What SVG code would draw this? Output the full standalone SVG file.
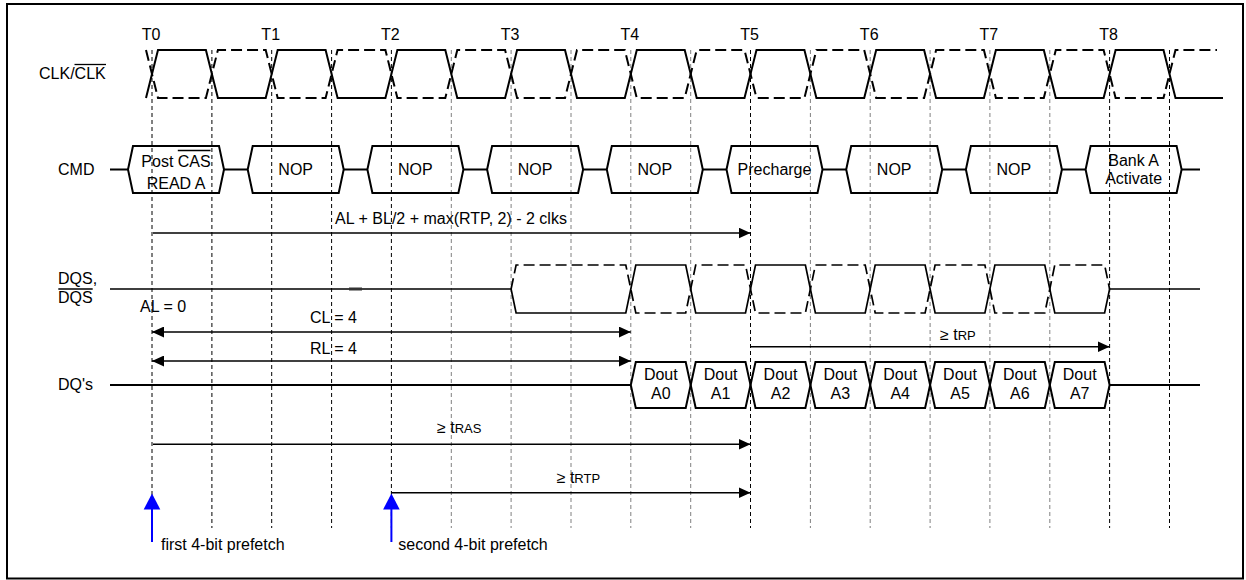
<svg xmlns="http://www.w3.org/2000/svg" width="1246" height="580" viewBox="0 0 1246 580">
<style>
text{font-family:"Liberation Sans",Arial,sans-serif;font-size:16px;fill:#000}
.m{text-anchor:middle}
.sub{font-size:13px}
.grid{stroke-width:1;stroke-dasharray:4,3;fill:none}
.gk{stroke:#000}
.gg{stroke:#808080}
.sig{fill:none;stroke:#000;stroke-width:2;stroke-linejoin:miter}
.dash{stroke-dasharray:11,5}
.hex{fill:none;stroke:#000;stroke-width:2}
.arr{stroke:#000;stroke-width:1.6;fill:none}
.blue{stroke:#0000ff;stroke-width:2;fill:none}
.ov{stroke:#000;stroke-width:1.3}
</style>
<defs>
<marker id="ah" markerUnits="userSpaceOnUse" markerWidth="12" markerHeight="11" refX="12" refY="5.5" orient="auto-start-reverse">
<path d="M0,0 L12,5.5 L0,11 z" fill="#000"/>
</marker>
</defs>
<rect x="7" y="4" width="1236" height="574.5" fill="#fff" stroke="#000" stroke-width="2"/>

<g id="grid">
<line class="grid gk" x1="152" y1="50" x2="152" y2="528"/>
<line class="grid gk" x1="211.9" y1="50" x2="211.9" y2="528"/>
<line class="grid gk" x1="271.7" y1="50" x2="271.7" y2="528"/>
<line class="grid gk" x1="331.6" y1="50" x2="331.6" y2="528"/>
<line class="grid gk" x1="391.4" y1="50" x2="391.4" y2="528"/>
<line class="grid gg" x1="451.3" y1="50" x2="451.3" y2="528"/>
<line class="grid gg" x1="511.1" y1="50" x2="511.1" y2="528"/>
<line class="grid gg" x1="571" y1="50" x2="571" y2="528"/>
<line class="grid gg" x1="630.8" y1="50" x2="630.8" y2="528"/>
<line class="grid gg" x1="690.7" y1="50" x2="690.7" y2="528"/>
<line class="grid gk" x1="750.5" y1="50" x2="750.5" y2="528"/>
<line class="grid gg" x1="810.4" y1="50" x2="810.4" y2="528"/>
<line class="grid gg" x1="870.2" y1="50" x2="870.2" y2="528"/>
<line class="grid gg" x1="930.1" y1="50" x2="930.1" y2="528"/>
<line class="grid gg" x1="989.9" y1="50" x2="989.9" y2="528"/>
<line class="grid gg" x1="1049.8" y1="50" x2="1049.8" y2="528"/>
<line class="grid gk" x1="1109.6" y1="50" x2="1109.6" y2="528"/>
<line class="grid gk" x1="1169.5" y1="50" x2="1169.5" y2="528"/>
</g>

<g id="tlabels">
<text class="m" x="151" y="39.5">T0</text>
<text class="m" x="270.7" y="39.5">T1</text>
<text class="m" x="390.4" y="39.5">T2</text>
<text class="m" x="510.1" y="39.5">T3</text>
<text class="m" x="629.8" y="39.5">T4</text>
<text class="m" x="749.5" y="39.5">T5</text>
<text class="m" x="869.2" y="39.5">T6</text>
<text class="m" x="988.9" y="39.5">T7</text>
<text class="m" x="1108.6" y="39.5">T8</text>
</g>

<g id="clk">
<text x="39" y="79">CLK/CLK</text>
<line class="ov" x1="74.5" y1="64.5" x2="106" y2="64.5"/>
<path class="sig" d="M146,98 L158,50 L205.9,50 L217.9,98 L265.7,98 L277.7,50 L325.6,50 L337.6,98 L385.4,98 L397.4,50 L445.3,50 L457.3,98 L505.1,98 L517.1,50 L565,50 L577,98 L624.8,98 L636.8,50 L684.7,50 L696.7,98 L744.5,98 L756.5,50 L804.4,50 L816.4,98 L864.2,98 L876.2,50 L924.1,50 L936.1,98 L983.9,98 L995.9,50 L1043.8,50 L1055.8,98 L1103.6,98 L1115.6,50 L1163.5,50 L1175.5,98 L1223,98"/>
<path class="sig dash" d="M146,50 L158,98 L205.9,98 L217.9,50 L265.7,50 L277.7,98 L325.6,98 L337.6,50 L385.4,50 L397.4,98 L445.3,98 L457.3,50 L505.1,50 L517.1,98 L565,98 L577,50 L624.8,50 L636.8,98 L684.7,98 L696.7,50 L744.5,50 L756.5,98 L804.4,98 L816.4,50 L864.2,50 L876.2,98 L924.1,98 L936.1,50 L983.9,50 L995.9,98 L1043.8,98 L1055.8,50 L1103.6,50 L1115.6,98 L1163.5,98 L1175.5,50 L1217,50"/>
</g>

<g id="cmd">
<text x="58" y="175">CMD</text>
<path class="sig" d="M110,169.5 H128 M224,169.5 H247.7 M343.7,169.5 H367.4 M463.4,169.5 H487.1 M583.1,169.5 H606.8 M702.8,169.5 H726.5 M822.5,169.5 H846.2 M942.2,169.5 H965.9 M1061.9,169.5 H1085.6 M1181.6,169.5 H1200"/>
</g>
<g id="cmd-read">
<polygon class="hex" points="128,169.5 133,146 219,146 224,169.5 219,193 133,193"/>
<text class="m" x="176" y="167">Post CAS</text>
<line class="ov" x1="177.8" y1="150.5" x2="210.5" y2="150.5"/>
<text class="m" x="176" y="189">READ A</text>
</g>
<g id="cmd-nop1">
<polygon class="hex" points="247.7,169.5 252.7,146 338.7,146 343.7,169.5 338.7,193 252.7,193"/>
<text class="m" x="295.7" y="175">NOP</text>
</g>
<g id="cmd-nop2">
<polygon class="hex" points="367.4,169.5 372.4,146 458.4,146 463.4,169.5 458.4,193 372.4,193"/>
<text class="m" x="415.4" y="175">NOP</text>
</g>
<g id="cmd-nop3">
<polygon class="hex" points="487.1,169.5 492.1,146 578.1,146 583.1,169.5 578.1,193 492.1,193"/>
<text class="m" x="535.1" y="175">NOP</text>
</g>
<g id="cmd-nop4">
<polygon class="hex" points="606.8,169.5 611.8,146 697.8,146 702.8,169.5 697.8,193 611.8,193"/>
<text class="m" x="654.8" y="175">NOP</text>
</g>
<g id="cmd-precharge">
<polygon class="hex" points="726.5,169.5 731.5,146 817.5,146 822.5,169.5 817.5,193 731.5,193"/>
<text class="m" x="774.5" y="175">Precharge</text>
</g>
<g id="cmd-nop5">
<polygon class="hex" points="846.2,169.5 851.2,146 937.2,146 942.2,169.5 937.2,193 851.2,193"/>
<text class="m" x="894.2" y="175">NOP</text>
</g>
<g id="cmd-nop6">
<polygon class="hex" points="965.9,169.5 970.9,146 1056.9,146 1061.9,169.5 1056.9,193 970.9,193"/>
<text class="m" x="1013.9" y="175">NOP</text>
</g>
<g id="cmd-activate">
<polygon class="hex" points="1085.6,169.5 1090.6,146 1176.6,146 1181.6,169.5 1176.6,193 1090.6,193"/>
<text class="m" x="1133.6" y="166">Bank A</text>
<text class="m" x="1133.6" y="184">Activate</text>
</g>

<g id="dqs">
<text x="58" y="284">DQS,</text>
<text x="58" y="303">DQS</text>
<line class="ov" x1="58.3" y1="289" x2="92.7" y2="289"/>
<path class="sig" style="stroke-width:1.7" d="M110,289 L511.1,289 L516.1,313 L625.8,313 L635.8,265 L685.7,265 L695.7,313 L745.5,313 L755.5,265 L805.4,265 L815.4,313 L865.2,313 L875.2,265 L925.1,265 L935.1,313 L984.9,313 L994.9,265 L1044.8,265 L1054.8,313 L1104.6,313 L1109.6,289 L1200,289"/>
<path class="sig dash" style="stroke-width:1.7" d="M511.1,289 L516.1,265 L625.8,265 L635.8,313 L685.7,313 L695.7,265 L745.5,265 L755.5,313 L805.4,313 L815.4,265 L865.2,265 L875.2,313 L925.1,313 L935.1,265 L984.9,265 L994.9,313 L1044.8,313 L1054.8,265 L1104.6,265 L1109.6,289"/>
<line x1="349" y1="289" x2="362" y2="289" stroke="#333" stroke-width="3"/>
</g>

<g id="dq">
<text x="58" y="390">DQ's</text>
<path class="sig" d="M110,385 H630.8 M1109.6,385 H1200"/>
</g>
<g id="dout-a0">
<polygon class="hex" points="630.8,385 635.8,362 685.7,362 690.7,385 685.7,408 635.8,408"/>
<text class="m" x="660.8" y="380">Dout</text><text class="m" x="660.8" y="399">A0</text>
</g>
<g id="dout-a1">
<polygon class="hex" points="690.7,385 695.7,362 745.5,362 750.5,385 745.5,408 695.7,408"/>
<text class="m" x="720.6" y="380">Dout</text><text class="m" x="720.6" y="399">A1</text>
</g>
<g id="dout-a2">
<polygon class="hex" points="750.5,385 755.5,362 805.4,362 810.4,385 805.4,408 755.5,408"/>
<text class="m" x="780.5" y="380">Dout</text><text class="m" x="780.5" y="399">A2</text>
</g>
<g id="dout-a3">
<polygon class="hex" points="810.4,385 815.4,362 865.2,362 870.2,385 865.2,408 815.4,408"/>
<text class="m" x="840.3" y="380">Dout</text><text class="m" x="840.3" y="399">A3</text>
</g>
<g id="dout-a4">
<polygon class="hex" points="870.2,385 875.2,362 925.1,362 930.1,385 925.1,408 875.2,408"/>
<text class="m" x="900.2" y="380">Dout</text><text class="m" x="900.2" y="399">A4</text>
</g>
<g id="dout-a5">
<polygon class="hex" points="930.1,385 935.1,362 984.9,362 989.9,385 984.9,408 935.1,408"/>
<text class="m" x="960" y="380">Dout</text><text class="m" x="960" y="399">A5</text>
</g>
<g id="dout-a6">
<polygon class="hex" points="989.9,385 994.9,362 1044.8,362 1049.8,385 1044.8,408 994.9,408"/>
<text class="m" x="1019.9" y="380">Dout</text><text class="m" x="1019.9" y="399">A6</text>
</g>
<g id="dout-a7">
<polygon class="hex" points="1049.8,385 1054.8,362 1104.6,362 1109.6,385 1104.6,408 1054.8,408"/>
<text class="m" x="1079.7" y="380">Dout</text><text class="m" x="1079.7" y="399">A7</text>
</g>

<g id="connectors">
<line class="arr" x1="153" y1="233" x2="750.5" y2="233" marker-end="url(#ah)"/>
<text class="m" x="451" y="224">AL + BL/2 + max(RTP, 2) - 2 clks</text>
<text x="140" y="312">AL = 0</text>
<line class="arr" x1="152" y1="332" x2="630.8" y2="332" marker-start="url(#ah)" marker-end="url(#ah)"/>
<text class="m" x="333.5" y="323">CL = 4</text>
<line class="arr" x1="152" y1="361" x2="630.8" y2="361" marker-start="url(#ah)" marker-end="url(#ah)"/>
<text class="m" x="333.5" y="354">RL = 4</text>
<line class="arr" x1="751" y1="346.7" x2="1109.6" y2="346.7" marker-end="url(#ah)"/>
<text x="940" y="340">≥ t<tspan class="sub">RP</tspan></text>
<line class="arr" x1="153" y1="444.3" x2="750.5" y2="444.3" marker-end="url(#ah)"/>
<text x="437" y="433">≥ t<tspan class="sub">RAS</tspan></text>
<line class="arr" x1="391.4" y1="492.7" x2="750.5" y2="492.7" marker-end="url(#ah)"/>
<text x="556.7" y="483.3">≥ t<tspan class="sub">RTP</tspan></text>
<line class="blue" x1="152" y1="542" x2="152" y2="506"/>
<polygon points="152,493.5 143.7,509.5 160.3,509.5" fill="#0000ff"/>
<line class="blue" x1="391.4" y1="542" x2="391.4" y2="506"/>
<polygon points="391.4,493.5 383.1,509.5 399.7,509.5" fill="#0000ff"/>
<text x="161" y="550">first 4-bit prefetch</text>
<text x="398.3" y="550">second 4-bit prefetch</text>
</g>
</svg>
